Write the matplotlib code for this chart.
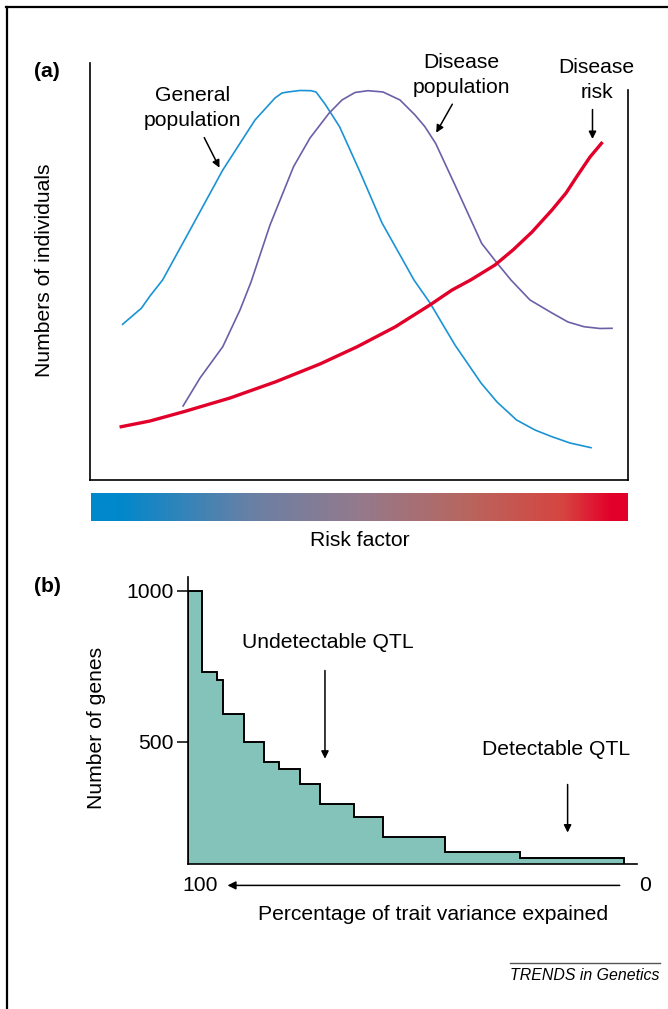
import matplotlib
matplotlib.use("Agg")
import matplotlib.pyplot as plt
import numpy as np
from matplotlib.colors import LinearSegmentedColormap
from matplotlib.lines import Line2D

plt.rcParams['font.family'] = ['Liberation Sans', 'DejaVu Sans']
FS = 15.2

# ---- panel (a): curves, x = risk factor (0-100), y = numbers (0-100) ----
general_x = [6.06, 7.43, 9.54, 11.15, 13.49, 18.59, 24.68, 30.67, 34.39, 35.69, 36.80,
             39.03, 41.08, 42.01, 43.68, 46.39, 50.19, 54.28, 57.62, 60.22, 63.20,
             67.84, 72.68, 75.65, 79.29, 82.71, 85.87, 89.22, 93.12]
general_y = [37.34, 38.85, 41.18, 44.12, 47.96, 59.95, 74.34, 86.33, 91.61, 92.81, 93.05,
             93.41, 93.36, 93.05, 90.17, 84.72, 73.86, 61.63, 53.96, 47.96, 42.45,
             32.37, 23.26, 18.71, 14.39, 11.99, 10.38, 8.87, 7.75]

disease_x = [17.30, 20.45, 24.68, 27.88, 29.93, 33.46, 37.83, 40.89, 44.42, 46.84, 49.26,
             51.67, 54.46, 57.62, 60.41, 62.25, 64.24, 67.84, 72.79, 75.65, 78.25,
             81.78, 85.87, 88.85, 91.82, 94.80, 97.03]
disease_y = [17.75, 24.46, 31.97, 40.77, 47.48, 61.15, 75.13, 82.01, 87.94, 91.13, 92.93,
             93.36, 93.05, 91.13, 87.53, 84.72, 80.74, 70.74, 56.76, 52.04, 47.96,
             43.17, 40.05, 37.89, 36.76, 36.33, 36.38]

risk_x = [5.80, 11.15, 17.43, 26.02, 34.55, 42.75, 49.68, 56.69, 63.18, 67.29,
          70.74, 75.28, 78.62, 82.16, 85.87, 88.48, 90.46, 92.94, 95.07]
risk_y = [12.78, 14.15, 16.38, 19.66, 23.57, 27.82, 31.97, 36.69, 41.97, 45.56,
          47.96, 51.56, 55.16, 59.47, 64.75, 68.82, 72.73, 77.46, 80.74]

# ---- panel (b): stepped distribution of gene effects ----
pct_edges = [3.8, 26.7, 43.4, 57.1, 63.3, 70.8, 75.4, 79.9, 83.3, 87.7, 92.3, 93.7, 97.0, 100]
gene_counts = [114, 134, 182, 250, 292, 361, 409, 432, 500, 591, 703, 731, 1000]
gene_ticks = [500, 1000]

W, H = 668, 1009
fig = plt.figure(figsize=(W / 100, H / 100), dpi=100)


def box(l, t, r, b):
    return [l / W, 1 - b / H, (r - l) / W, (b - t) / H]


# page frame
fig.add_artist(Line2D([6 / W, 1], [1 - 7 / H] * 2, transform=fig.transFigure, color='black', lw=1.6))
fig.add_artist(Line2D([7 / W] * 2, [0, 1 - 7 / H], transform=fig.transFigure, color='black', lw=1.6))

##########################################################
# Panel (a)
##########################################################
ax = fig.add_axes(box(90, 63, 628, 480))
ax.set_xlim(0, 100)
ax.set_ylim(0, 100)
ax.plot(general_x, general_y, color='#1a93d6', lw=1.2, solid_joinstyle='round')
ax.plot(disease_x, disease_y, color='#6d5ea8', lw=1.2, solid_joinstyle='round')
ax.plot(risk_x, risk_y, color='#e2002a', lw=2.4, solid_joinstyle='round')
ax.spines['top'].set_visible(False)
ax.spines['right'].set_bounds(0, 93.5)
for s in ax.spines.values():
    s.set_linewidth(1.2)
ax.set_xticks([])
ax.set_yticks([])

arr = dict(arrowstyle='-|>', color='black', lw=1.1, mutation_scale=11)
ax.text(19.1, 89.2, 'General\npopulation', ha='center', va='center', fontsize=FS, linespacing=1.36)
ax.annotate('', xy=(24.3, 74.3), xytext=(21.0, 82.7), arrowprops=arr)
ax.text(69.1, 97.1, 'Disease\npopulation', ha='center', va='center', fontsize=FS, linespacing=1.36, clip_on=False)
ax.annotate('', xy=(64.1, 82.7), xytext=(67.6, 90.7), arrowprops=arr)
ax.text(94.2, 95.9, 'Disease\nrisk', ha='center', va='center', fontsize=FS, linespacing=1.36, clip_on=False)
ax.annotate('', xy=(93.4, 81.1), xytext=(93.4, 89.5), arrowprops=arr)

# risk factor colour bar
cmap = LinearSegmentedColormap.from_list('risk', [
    (0.0, '#0088cc'), (0.05, '#0088cc'), (0.3, '#6a80a5'), (0.5, '#947a8c'),
    (0.7, '#b8665f'), (0.88, '#d64540'), (0.97, '#e2002a'), (1.0, '#e2002a')])
cax = fig.add_axes(box(91, 493, 628, 521))
cax.imshow(np.linspace(0, 1, 256)[None, :], aspect='auto', cmap=cmap, extent=(0, 1, 0, 1))
cax.axis('off')

fig.text(360 / W, 1 - 541 / H, 'Risk factor', ha='center', va='center', fontsize=FS)
fig.text(45 / W, 1 - 270 / H, 'Numbers of individuals', ha='center', va='center', rotation=90, fontsize=FS)
fig.text(47 / W, 1 - 72 / H, '(a)', ha='center', va='center', fontsize=FS, fontweight='bold')

##########################################################
# Panel (b)
##########################################################
bx = fig.add_axes(box(188, 577, 637, 864))
ybot = 94
bx.stairs(gene_counts, pct_edges, baseline=ybot, fill=True, facecolor='#83c3ba',
          edgecolor='black', lw=1.2)
bx.stairs(gene_counts, pct_edges, baseline=ybot, fill=False, color='black', lw=1.2)
bx.set_xlim(100, 1)
bx.set_ylim(ybot, 1046)
bx.spines['top'].set_visible(False)
bx.spines['right'].set_visible(False)
for s in bx.spines.values():
    s.set_linewidth(1.2)
bx.set_xticks([])
bx.set_yticks(gene_ticks)
bx.tick_params(axis='y', length=8, width=1.1, labelsize=FS, pad=2)

bx.text(69.2, 828, 'Undetectable QTL', ha='center', va='center', fontsize=FS)
bx.annotate('', xy=(69.8, 434), xytext=(69.8, 745), arrowprops=arr)
bx.text(18.9, 473, 'Detectable QTL', ha='center', va='center', fontsize=FS)
bx.annotate('', xy=(16.3, 189), xytext=(16.3, 367), arrowprops=arr)

# reversed percentage axis
bx.annotate('', xy=(91.9, 23), xytext=(4.2, 23),
            arrowprops=dict(arrowstyle='-|>', color='black', lw=1.1, mutation_scale=12),
            annotation_clip=False)
bx.text(97.4, 23, '100', ha='center', va='center', fontsize=FS, clip_on=False)
bx.text(-0.7, 23, '0', ha='center', va='center', fontsize=FS, clip_on=False)

fig.text(433 / W, 1 - 915 / H, 'Percentage of trait variance expained', ha='center', va='center', fontsize=FS)
fig.text(97 / W, 1 - 728 / H, 'Number of genes', ha='center', va='center', rotation=90, fontsize=FS)
fig.text(47 / W, 1 - 587 / H, '(b)', ha='center', va='center', fontsize=FS, fontweight='bold')

# journal tag
fig.add_artist(Line2D([510 / W, 660 / W], [1 - 963 / H] * 2, transform=fig.transFigure, color='#555555', lw=1.0))
fig.text(585 / W, 1 - 975 / H, 'TRENDS in Genetics', ha='center', va='center', fontsize=11.4, style='italic')

fig.savefig('out.png', dpi=100)
